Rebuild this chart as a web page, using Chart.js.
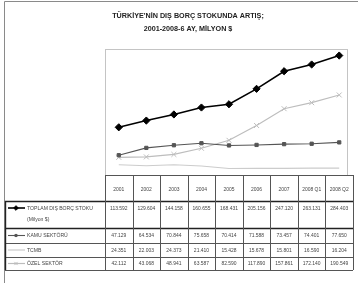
<!DOCTYPE html>
<html><head><meta charset="utf-8">
<script src="https://cdn.jsdelivr.net/npm/chart.js@4"></script>
<style>html,body{margin:0;padding:0;background:#fff;}#c{display:block;}</style>
</head><body>
<canvas id="c" width="358" height="283"></canvas>
<script>
const categories = ['2001','2002','2003','2004','2005','2006','2007','2008 Q1','2008 Q2'];
const toplam = [113.592,129.604,144.158,160.655,168.431,205.156,247.120,263.131,284.403];
const kamu = [47.129,64.534,70.844,75.658,70.414,71.588,73.457,74.401,77.650];
const tcmb = [24.351,22.003,24.373,21.410,15.428,15.678,15.801,16.590,16.204];
const ozel = [42.112,43.068,48.941,63.587,82.590,117.890,157.861,172.140,190.549];
const seriesNames = ['TOPLAM DIŞ BORÇ STOKU','KAMU SEKTÖRÜ','TCMB','ÖZEL SEKTÖR'];
const titleLines = ["TÜRKİYE'NİN DIŞ BORÇ STOKUNDA ARTIŞ;", '2001-2008-6 AY, MİLYON $'];

const fmt = v => v.toFixed(3);
const FONT = '"Liberation Sans Narrow","Liberation Sans",Arial,sans-serif';

const styles = [
  {color:'#000000', width:1.6, point:'rectRot', r:3.6},
  {color:'#555555', width:1.1, point:'rect', r:2.3},
  {color:'#cccccc', width:1.2, point:false, r:0},
  {color:'#bdbdbd', width:1.2, point:'crossRot', r:3.5}
];
const seriesData = [toplam, kamu, tcmb, ozel];

function narrowText(ctx, txt, x, y, sx) {
  ctx.save();
  ctx.translate(x, y);
  ctx.scale(sx, 1);
  ctx.fillText(txt, 0, 0);
  ctx.restore();
}

const tablePlugin = {
  id: 'tbl',
  beforeDatasetsDraw(chart) {
    const ctx = chart.ctx;
    ctx.save();
    ctx.strokeStyle = '#c4c4c4'; ctx.lineWidth = 1;
    ctx.strokeRect(105.5, 49.5, 242, 126);
    ctx.restore();
  },
  afterDraw(chart) {
    const ctx = chart.ctx, x = chart.scales.x;
    ctx.save();
    ctx.strokeStyle = '#8a8a8a'; ctx.lineWidth = 1;
    ctx.beginPath(); ctx.moveTo(4.5, 283); ctx.lineTo(4.5, 1.5); ctx.lineTo(358, 1.5); ctx.stroke();
    ctx.fillStyle = '#222'; ctx.textAlign = 'center'; ctx.textBaseline = 'middle';
    ctx.font = 'bold 8px ' + FONT;
    narrowText(ctx, titleLines[0], 188, 15.5, 0.9);
    narrowText(ctx, titleLines[1], 188, 29, 0.9);
    const n = categories.length;
    const left = x.left, right = x.right, cw = (right - left) / n;
    const rows = [175, 201, 228, 243, 257, 270];
    ctx.strokeStyle = '#555'; ctx.lineWidth = 1;
    ctx.beginPath(); ctx.moveTo(left, rows[0] + .5); ctx.lineTo(right, rows[0] + .5); ctx.stroke();
    for (let i = 1; i < rows.length; i++) {
      ctx.lineWidth = (i <= 2) ? 1.6 : 1;
      ctx.strokeStyle = (i <= 2) ? '#222' : '#555';
      ctx.beginPath(); ctx.moveTo(5, rows[i] + .5); ctx.lineTo(right, rows[i] + .5); ctx.stroke();
    }
    ctx.lineWidth = 1; ctx.strokeStyle = '#555';
    for (let i = 0; i <= n; i++) {
      const xx = Math.round(left + i * cw) + .5;
      ctx.beginPath(); ctx.moveTo(xx, rows[0]); ctx.lineTo(xx, rows[5]); ctx.stroke();
    }
    ctx.lineWidth = 1.4; ctx.strokeStyle = '#222';
    ctx.beginPath(); ctx.moveTo(5.5, rows[1]); ctx.lineTo(5.5, rows[5]); ctx.stroke();
    ctx.fillStyle = '#444'; ctx.font = '5.5px ' + FONT;
    for (let i = 0; i < n; i++) {
      narrowText(ctx, categories[i], x.getPixelForValue(i), 189, 0.9);
    }
    const valY = [208, 235.5, 250, 263.5];
    for (let s = 0; s < 4; s++) {
      for (let i = 0; i < n; i++) {
        narrowText(ctx, fmt(seriesData[s][i]), x.getPixelForValue(i), valY[s], 0.9);
      }
    }
    ctx.textAlign = 'left';
    ctx.font = '6px ' + FONT;
    for (let s = 0; s < 4; s++) {
      const y = valY[s], st = styles[s];
      ctx.strokeStyle = st.color; ctx.lineWidth = st.width;
      ctx.beginPath(); ctx.moveTo(8, y); ctx.lineTo(25, y); ctx.stroke();
      if (st.point) {
        ctx.fillStyle = st.color;
        ctx.strokeStyle = st.color;
        ctx.lineWidth = 1;
        Chart.helpers.drawPoint(ctx, {pointStyle: st.point, radius: st.r * 0.65, borderWidth: 1}, 16, y);
      }
      ctx.fillStyle = '#444';
      narrowText(ctx, seriesNames[s], 27, y, 0.85);
    }
    narrowText(ctx, '(Milyon $)', 27, 219, 0.85);
    ctx.restore();
  }
};

new Chart(document.getElementById('c'), {
  type: 'line',
  data: {
    labels: categories,
    datasets: seriesData.map((d, i) => ({
      label: seriesNames[i],
      data: d,
      borderColor: styles[i].color,
      backgroundColor: styles[i].color,
      borderWidth: styles[i].width,
      pointStyle: styles[i].point,
      pointRadius: styles[i].r,
      pointBorderWidth: 1,
      pointBorderColor: styles[i].color,
      pointBackgroundColor: styles[i].color,
      tension: 0
    }))
  },
  options: {
    responsive: false,
    animation: false,
    devicePixelRatio: 1,
    layout: {padding: {left: 105, right: 1, top: 49, bottom: 108}},
    plugins: {legend: {display: false}, title: {display: false}, tooltip: {enabled: false}},
    scales: {
      x: {type: 'category', offset: true, display: false},
      y: {min: 0, max: 300, display: false}
    }
  },
  plugins: [tablePlugin]
});
</script>
</body></html>
